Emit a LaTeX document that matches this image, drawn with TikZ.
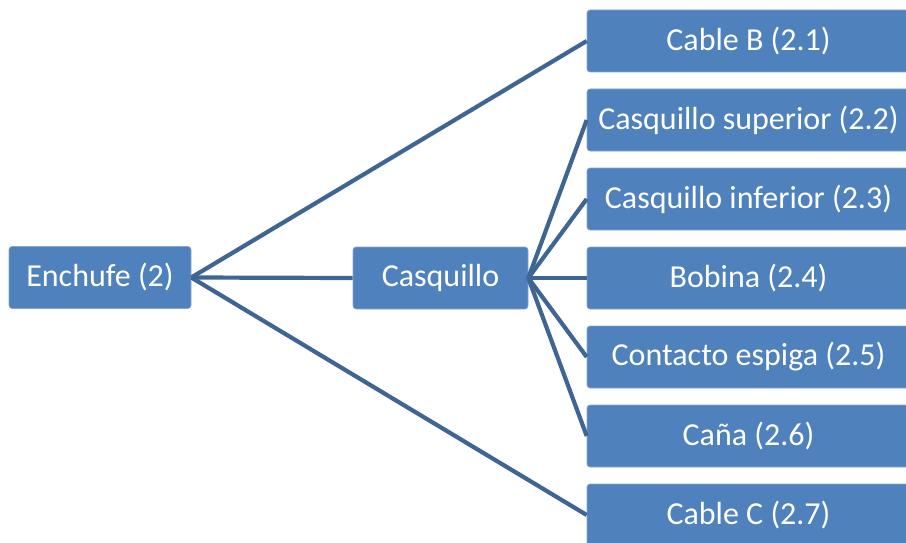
\documentclass[tikz,border=0pt]{standalone}
\usepackage{fontspec}
\setmainfont{Carlito}
\definecolor{boxblue}{HTML}{4F81BD}
\definecolor{linkblue}{HTML}{3E6594}
\tikzset{
  box/.style={fill=boxblue, draw=boxblue!70!white, line width=0.6pt, rounded corners=3pt,
    text=white, font=\fontsize{32}{38}\selectfont, minimum height=62pt, inner sep=0pt},
  link/.style={draw=linkblue, line width=4.2pt}
}
\begin{document}
\begin{tikzpicture}[x=1pt,y=-1pt]
  \clip (0,0) rectangle (906,543);
  \useasboundingbox (0,0) rectangle (906,543);

  % root and intermediate nodes
  \node[box, minimum width=182pt] (enchufe) at (100,277.5) {Enchufe (2)};
  \node[box, minimum width=175pt] (casq) at (440.5,278) {Casquillo};

  % leaf column
  \node[box, minimum width=323pt] (c1) at (748.5,41)  {Cable B (2.1)};
  \node[box, minimum width=323pt] (c2) at (748.5,120) {Casquillo superior (2.2)};
  \node[box, minimum width=323pt] (c3) at (748.5,199) {Casquillo inferior (2.3)};
  \node[box, minimum width=323pt] (c4) at (748.5,278) {Bobina (2.4)};
  \node[box, minimum width=323pt] (c5) at (748.5,357) {Contacto espiga (2.5)};
  \node[box, minimum width=323pt] (c6) at (748.5,436) {Caña (2.6)};
  \node[box, minimum width=323pt] (c7) at (748.5,515) {Cable C (2.7)};

  % connectors
  \draw[link] (enchufe.east) -- (c1.west);
  \draw[link] (enchufe.east) -- (casq.west);
  \draw[link] (enchufe.east) -- (c7.west);
  \foreach \n in {c2,c3,c4,c5,c6}
    \draw[link] (casq.east) -- (\n.west);
\end{tikzpicture}
\end{document}
